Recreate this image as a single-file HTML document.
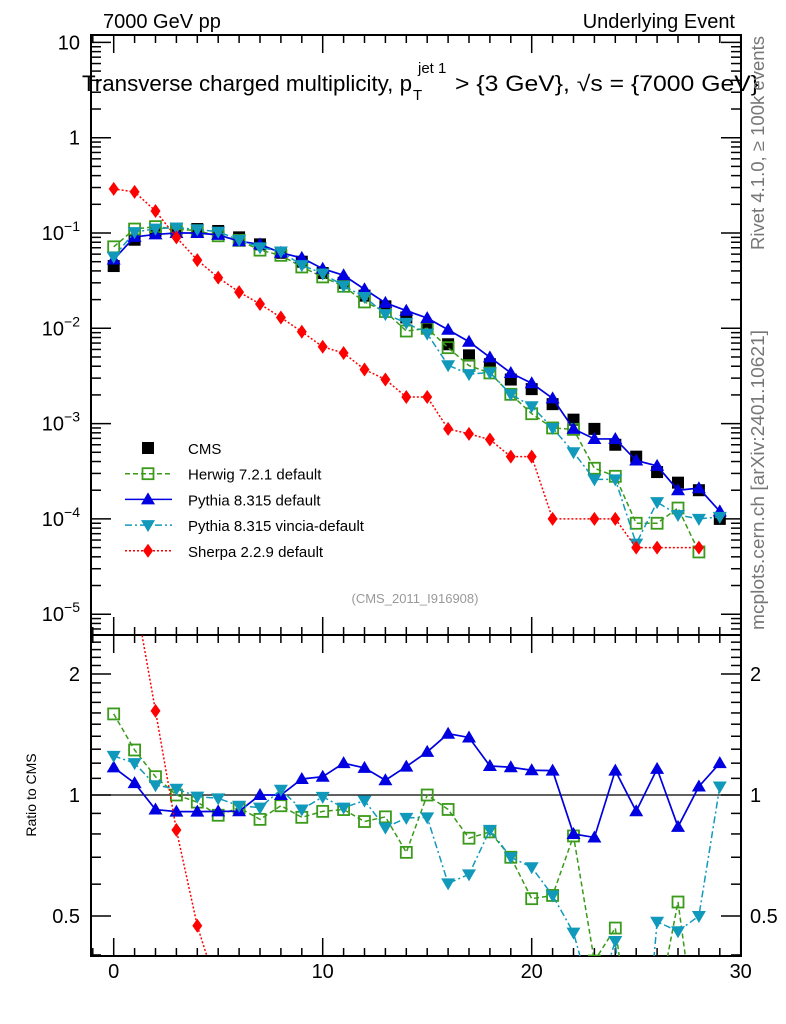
<!DOCTYPE html>
<html><head><meta charset="utf-8"><style>
html,body{margin:0;background:#fff;overflow:hidden;width:786px;height:1024px}
svg{display:block}
svg text{font-family:"Liberation Sans",sans-serif}
</style></head><body>
<svg id="c" width="786" height="1024" xmlns="http://www.w3.org/2000/svg"></svg>
<script>
const bins=[0,1,2,3,4,5,6,7,8,9,10,11,12,13,14,15,16,17,18,19,20,21,22,23,24,25,26,27,28,29];
const cms=[0.045,0.085,0.105,0.11,0.11,0.105,0.09,0.076,0.062,0.05,0.038,0.03,0.022,0.017,0.013,0.010,0.0068,0.0052,0.0042,0.0029,0.0023,0.0016,0.0011,0.00088,0.0006,0.00045,0.00031,0.00024,0.0002,0.0001];
const herwig=[0.0716,0.110,0.1166,0.11,0.1056,0.0935,0.0837,0.0661,0.0583,0.044,0.0346,0.0276,0.0189,0.015,0.00936,0.010,0.00626,0.00406,0.0034,0.00203,0.00127,0.0009,0.00087,0.00034,0.00028,0.00009,0.00009,0.00013,0.000045,null];
const pythia=[0.0527,0.091,0.0966,0.1,0.1,0.0956,0.082,0.076,0.062,0.0548,0.0422,0.036,0.0257,0.0185,0.0153,0.0128,0.00966,0.00723,0.00496,0.0034,0.00265,0.00184,0.00088,0.00069,0.00069,0.00041,0.00036,0.0002,0.00021,0.00012];
const vincia=[0.0563,0.102,0.111,0.114,0.109,0.103,0.0846,0.0707,0.0639,0.046,0.0376,0.0279,0.0213,0.0141,0.0114,0.0088,0.0041,0.0033,0.00344,0.00203,0.00152,0.0009,0.0005,0.00026,0.00026,0.000055,0.00015,0.00011,0.0001,0.000105];
const sherpa=[0.29,0.27,0.17,0.09,0.052,0.034,0.024,0.018,0.013,0.0092,0.0064,0.0055,0.0037,0.0029,0.0019,0.0019,0.00088,0.00078,0.00068,0.00045,0.00045,0.0001,null,0.0001,0.0001,0.00005,0.00005,null,0.00005,null];
const yTicks=[1e1,1,1e-1,1e-2,1e-3,1e-4,1e-5];
const rTicks=[2,1,0.5];
const xTicks=[0,10,20,30];

const S=document.getElementById('c');const NS='http://www.w3.org/2000/svg';
function el(t,a,p){const e=document.createElementNS(NS,t);for(const k in a)e.setAttribute(k,a[k]);(p||S).appendChild(e);return e;}
const L=91,R=741,T1=35,B1=635,B2=956;
const X=v=>113.7+(v)*20.9;
const Y=v=>233-95.3*Math.log10(v/0.1);
const RY=v=>795-121*Math.log2(v);
let f=el('rect',{x:L,y:T1,width:R-L,height:B1-T1,fill:'none',stroke:'#000','stroke-width':2});

f=el('rect',{x:L,y:B1,width:R-L,height:B2-B1,fill:'none',stroke:'#000','stroke-width':2});

for(let i=-1;i<=30;i++){const x=X(i);if(x<L||x>R)continue;const big=i%10==0;const len=big?18:8;
 for(const [y0,d] of [[T1,1],[B1,-1],[B1,1],[B2,-1]]) el('line',{x1:x,x2:x,y1:y0,y2:y0+d*len,stroke:'#000','stroke-width':1.5});}
xTicks.forEach(v=>{const t=el('text',{x:X(v),y:978,'font-size':20,'text-anchor':'middle'});t.textContent=v;
 });
for(let d=-6;d<=1;d++){for(let m=1;m<10;m++){const v=m*Math.pow(10,d);const y=Y(v);if(y<T1||y>B1)continue;const len=m==1?20:10;
 el('line',{x1:L,x2:L+len,y1:y,y2:y,stroke:'#000','stroke-width':1.5});el('line',{x1:R,x2:R-len,y1:y,y2:y,stroke:'#000','stroke-width':1.5});}}
yTicks.forEach(v=>{const e=Math.round(Math.log10(v));const t=el('text',{x:80,y:Y(v)+7,'font-size':20,'text-anchor':'end'});
 if(e==1)t.textContent='10';else if(e==0)t.textContent='1';else{t.textContent='10';const s=el('tspan',{dy:-9,'font-size':14},t);s.textContent=String(e).replace('-','\u2212');}
 });
for(let v=0.4;v<=2.5;v+=0.1){const y=RY(v);if(y<B1||y>B2)continue;const big=[0.5,1,2].some(q=>Math.abs(q-v)<1e-6);const len=big?20:10;
 el('line',{x1:L,x2:L+len,y1:y,y2:y,stroke:'#000','stroke-width':1.5});el('line',{x1:R,x2:R-len,y1:y,y2:y,stroke:'#000','stroke-width':1.5});}
rTicks.forEach(v=>{let t=el('text',{x:80,y:RY(v)+7,'font-size':20,'text-anchor':'end'});t.textContent=v;
 
 t=el('text',{x:750,y:RY(v)+7,'font-size':20});t.textContent=v;
 });
el('line',{x1:L,x2:R,y1:RY(1),y2:RY(1),stroke:'#000','stroke-width':1.2});
const defs=el('defs',{});
const c1=el('clipPath',{id:'c1'},defs);el('rect',{x:L,y:T1,width:R-L,height:B1-T1},c1);
const c2=el('clipPath',{id:'c2'},defs);el('rect',{x:L,y:B1,width:R-L,height:B2-B1},c2);
const g1=el('g',{'clip-path':'url(#c1)'});const g2=el('g',{'clip-path':'url(#c2)'});
function marker(g,kind,col,x,y){
 if(kind=='sq')return el('rect',{x:x-6,y:y-6,width:12,height:12,fill:'#000'},g);
 if(kind=='osq')return el('rect',{x:x-5.5,y:y-5.5,width:11,height:11,fill:'#fff','fill-opacity':0,stroke:col,'stroke-width':1.8},g);
 if(kind=='tri')return el('polygon',{points:`${x},${y-7} ${x-7},${y+5} ${x+7},${y+5}`,fill:col},g);
 if(kind=='itri')return el('polygon',{points:`${x},${y+7} ${x-7},${y-5} ${x+7},${y-5}`,fill:col},g);
 if(kind=='dia')return el('polygon',{points:`${x},${y-7} ${x-5},${y} ${x},${y+7} ${x+5},${y}`,fill:col},g);
}
const series=[
 {n:'herwig',d:herwig,c:'#3a9a1a',k:'osq',dash:'5,3',w:1.5},
 {n:'pythia',d:pythia,c:'#0000e0',k:'tri',dash:'',w:1.7},
 {n:'vincia',d:vincia,c:'#1199bb',k:'itri',dash:'7,3,2,3',w:1.5},
 {n:'sherpa',d:sherpa,c:'#ff0000',k:'dia',dash:'2,2',w:1.5}];
bins.forEach((b,i)=>{const m=marker(g1,'sq','#000',X(b),Y(cms[i]));});
series.forEach(s=>{
 let pts=[],rp=[];
 bins.forEach((b,i)=>{const v=s.d[i];if(v==null)return;pts.push(X(b)+','+Y(v));rp.push(X(b)+','+RY(v/cms[i]));});
 let p=el('polyline',{points:pts.join(' '),fill:'none',stroke:s.c,'stroke-width':s.w,'stroke-dasharray':s.dash},g1);
 
 p=el('polyline',{points:rp.join(' '),fill:'none',stroke:s.c,'stroke-width':s.w,'stroke-dasharray':s.dash},g2);
 
 bins.forEach((b,i)=>{const v=s.d[i];if(v==null)return;
  let m=marker(g1,s.k,s.c,X(b),Y(v));
  m=marker(g2,s.k,s.c,X(b),RY(v/cms[i]));});
});
const leg=[['CMS','sq','#000',''],['Herwig 7.2.1 default','osq','#3a9a1a','5,3'],['Pythia 8.315 default','tri','#0000e0',''],['Pythia 8.315 vincia-default','itri','#1199bb','7,3,2,3'],['Sherpa 2.2.9 default','dia','#ff0000','2,2']];
leg.forEach((l,i)=>{const y=448+i*25.7;const g=el('g',{});
 
 if(i>0)el('line',{x1:125,x2:172,y1:y,y2:y,stroke:l[2],'stroke-width':1.5,'stroke-dasharray':l[3]},g);
 marker(g,l[1],l[2],148,y);
 const t=el('text',{x:188,y:y+6,'font-size':15},g);t.textContent=l[0];});
function txt(s,a,name){const t=el('text',a);t.textContent=s;return t;}
txt('7000 GeV pp',{x:103,y:28,'font-size':20},'top-left-label');
txt('Underlying Event',{x:735,y:28,'font-size':20,'text-anchor':'end'},'top-right-label');
const tg=el('g',{});
let t1=el('text',{x:82,y:91,'font-size':22,textLength:330,lengthAdjust:'spacingAndGlyphs'},tg);t1.textContent='Transverse charged multiplicity, p';
let t2=el('text',{x:413,y:100,'font-size':15},tg);t2.textContent='T';
let t3=el('text',{x:418,y:73,'font-size':15},tg);t3.textContent='jet 1';
let t4=el('text',{x:455,y:91,'font-size':22,textLength:304,lengthAdjust:'spacingAndGlyphs'},tg);t4.textContent='> {3 GeV}, √s = {7000 GeV}';
txt('(CMS_2011_I916908)',{x:415,y:603,'font-size':13,fill:'#999','text-anchor':'middle'},'analysis-id');
txt('Ratio to CMS',{x:36,y:795,'font-size':14,'text-anchor':'middle',transform:'rotate(-90 36 795)'},'ratio-axis-title');
txt('Rivet 4.1.0, \u2265 100k events',{x:764,y:143,'font-size':18,fill:'#777','text-anchor':'middle',textLength:214,lengthAdjust:'spacingAndGlyphs',transform:'rotate(-90 764 143)'},'rivet-label');
txt('mcplots.cern.ch [arXiv:2401.10621]',{x:764,y:480,'font-size':18,fill:'#777','text-anchor':'middle',textLength:300,lengthAdjust:'spacingAndGlyphs',transform:'rotate(-90 764 480)'},'mcplots-label');
</script>
</body></html>
